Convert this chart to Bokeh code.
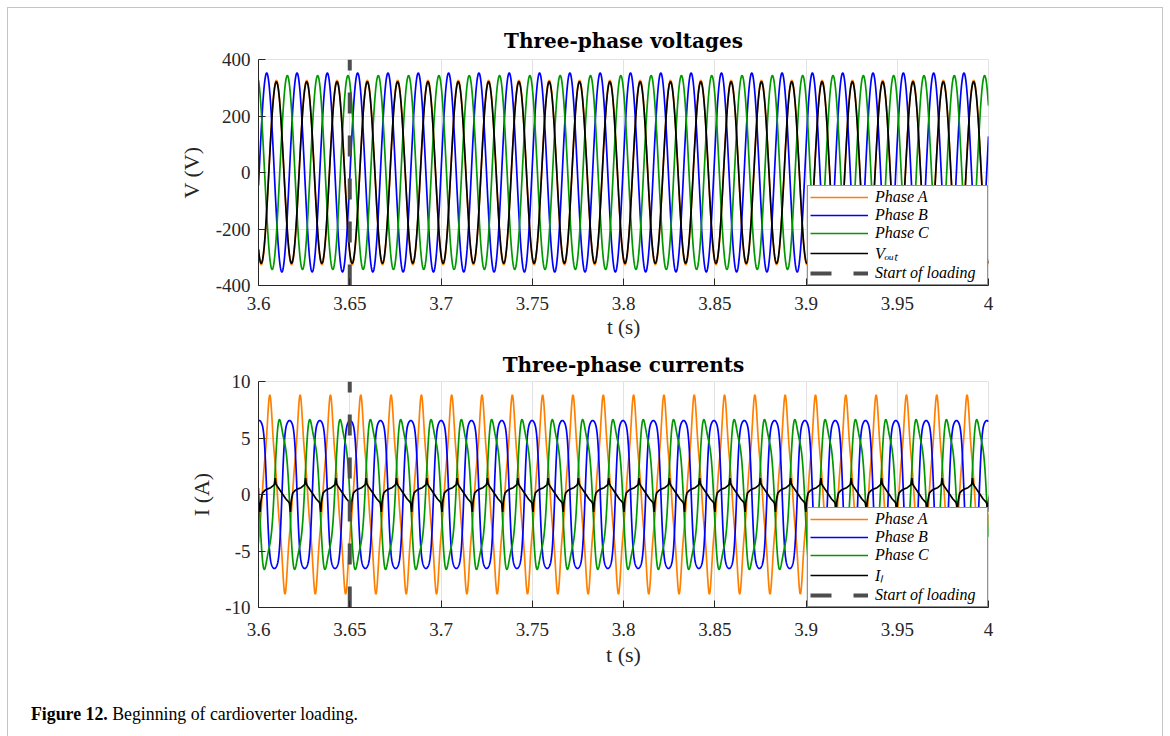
import numpy as np
from bokeh.plotting import figure
from bokeh.layouts import column
from bokeh.models import (Range1d, FixedTicker, CustomJSTickFormatter, Legend,
                          LegendItem, Div)
from bokeh.embed import file_html
from bokeh.resources import INLINE

# ---------------- values ----------------
t_window = [3.6, 4.0]
mains_freq_hz = 60.2            # 23 periods between 3.6097 s and 3.9917 s
loading_start_s = 3.65

x_ticks = [3.6, 3.65, 3.7, 3.75, 3.8, 3.85, 3.9, 3.95, 4.0]
x_tick_labels = ["3.6", "3.65", "3.7", "3.75", "3.8", "3.85", "3.9", "3.95", "4"]
v_ticks = [-400, -200, 0, 200, 400]
i_ticks = [-10, -5, 0, 5, 10]

titles = ["Three-phase voltages", "Three-phase currents"]
y_labels = ["V (V)", "I (A)"]
x_label = "t (s)"
caption_bold = "Figure 12."
caption_text = "Beginning of cardioverter loading."

phase_names = ["Phase A", "Phase B", "Phase C"]
phase_colors = ["#FF8000", "#0000FF", "#009900"]

# voltages: crest value (V) and time of first crest (s)
v_phase_peak = [326, 352, 343]
v_phase_crest_t = [3.6098, 3.6045, 3.6158]
v_out_peak = 321
v_out_crest_t = 3.6098

# phase currents: time of fundamental crest, harmonics (order, amplitude A, phase deg)
i_phase_crest_t = [3.6062, 3.6004, 3.6124]
i_phase_harmonics = [
    [(1, 7.5, 0), (3, 0.9, 180), (5, 0.4, 0)],
    [(1, 7.4, 0), (3, 1.0, 0), (5, 0.15, 0)],
    [(1, 6.6, 0), (3, 0.85, -60)],
]

# load current I_L: one period read point by point (fraction of period, A),
# starting at a downward spike
il_cycle_frac = [0.00, 0.02, 0.05, 0.08, 0.15, 0.25, 0.35, 0.44, 0.47, 0.50,
                 0.52, 0.56, 0.65, 0.75, 0.85, 0.94, 0.97]
il_cycle_val = [-1.55, -0.7, -0.2, 0.15, 0.35, 0.5, 0.6, 0.8, 0.9, 1.45,
                0.95, 0.75, 0.4, 0.0, -0.4, -0.65, -0.8]
il_first_trough_t = 3.6009

# ---------------- series ----------------
period = 1.0 / mains_freq_hz
w = 2 * np.pi * mains_freq_hz
t = np.linspace(t_window[0], t_window[1], 4001)

v_phase = [a * np.cos(w * (t - tc)) for a, tc in zip(v_phase_peak, v_phase_crest_t)]
v_out = v_out_peak * np.cos(w * (t - v_out_crest_t))

i_phase = []
for tc, harm in zip(i_phase_crest_t, i_phase_harmonics):
    th = w * (t - tc) + np.pi / 2
    y = np.zeros_like(t)
    for k, a, ph in harm:
        y += a * np.sin(k * th + np.deg2rad(ph))
    i_phase.append(y)

n_first = int(np.floor((t_window[0] - il_first_trough_t) / period)) - 1
n_last = int(np.ceil((t_window[1] - il_first_trough_t) / period)) + 1
il_t, il_y = [], []
for n in range(n_first, n_last + 1):
    for fr, val in zip(il_cycle_frac, il_cycle_val):
        il_t.append(il_first_trough_t + (n + fr) * period)
        il_y.append(val)

# ---------------- styling helpers ----------------
SERIF = "Liberation Serif"
GRID = "#e2e2e2"
AX = "#262626"

xfmt_code = """
let best = 0;
for (let i = 0; i < xt.length; i++) {
  if (Math.abs(xt[i] - tick) < Math.abs(xt[best] - tick)) best = i;
}
return xl[best];
"""


def make_fig(title, yticks, ylabel, height, top, bottom, tstandoff, xstand, ylab_stand,
             xlab_size, xlab_stand):
    p = figure(width=1154, height=height, output_backend="svg", toolbar_location=None,
               x_range=Range1d(t_window[0], t_window[1]),
               y_range=Range1d(yticks[0], yticks[-1]),
               min_border_left=250, min_border_right=174,
               min_border_top=top, min_border_bottom=bottom)
    p.title.text = title
    p.title.align = "center"
    p.title.text_font = "DejaVu Serif"
    p.title.text_font_style = "bold"
    p.title.text_font_size = "20px"
    p.title.text_color = "black"
    p.title.standoff = tstandoff
    p.xaxis.ticker = FixedTicker(ticks=x_ticks)
    p.xaxis.formatter = CustomJSTickFormatter(
        args=dict(xt=x_ticks, xl=x_tick_labels), code=xfmt_code)
    p.yaxis.ticker = FixedTicker(ticks=yticks)
    p.yaxis.formatter = CustomJSTickFormatter(code="return String(tick);")
    for ax in p.axis:
        ax.major_label_text_font = SERIF
        ax.major_label_text_font_size = "19px"
        ax.major_label_text_color = AX
        ax.axis_line_color = AX
        ax.major_tick_line_color = AX
        ax.major_tick_in = 7
        ax.major_tick_out = 0
        ax.minor_tick_in = 0
        ax.minor_tick_out = 0
        ax.axis_label_text_font = SERIF
        ax.axis_label_text_font_size = "22px"
        ax.axis_label_text_font_style = "normal"
        ax.axis_label_text_color = AX
    p.xaxis.axis_label_text_font_size = xlab_size
    p.xaxis.major_label_standoff = xstand
    p.yaxis.major_label_standoff = 8
    p.xaxis.axis_label = x_label
    p.yaxis.axis_label = ylabel
    p.xaxis.axis_label_standoff = xlab_stand
    p.yaxis.axis_label_standoff = ylab_stand
    p.grid.grid_line_color = GRID
    p.outline_line_color = GRID
    return p


def add_legend(p, renderers, labels):
    items = [LegendItem(label=lab, renderers=[r]) for lab, r in zip(labels, renderers)]
    lg = Legend(items=items, location="bottom_right", margin=0, padding=2, spacing=0,
                glyph_width=58, glyph_height=18, label_height=18, label_standoff=7,
                label_width=110,
                label_text_font=SERIF, label_text_font_style="italic",
                label_text_font_size="16px", label_text_color="black",
                border_line_color=AX, border_line_width=1,
                background_fill_color="white", background_fill_alpha=1)
    p.add_layout(lg)


# ---------------- voltages ----------------
p1 = make_fig(titles[0], v_ticks, y_labels[0], 337, 51, 60, 14, 11, 9, "21px", 2)
r1 = []
for y, c in zip(v_phase, phase_colors):
    r1.append(p1.line(t, y, line_color=c, line_width=1.7))
r1.append(p1.line(t, v_out, line_color="black", line_width=1.7))
r1.append(p1.line([loading_start_s, loading_start_s], [v_ticks[0], v_ticks[-1]],
                  line_color="#4D4D4D", line_width=4, line_dash="21 22"))
add_legend(p1, r1, phase_names + ["V\u2092\u1d64\u209c", "Start of loading"])

# ---------------- currents ----------------
p2 = make_fig(titles[1], i_ticks, y_labels[1], 332, 35, 70, 10, 15, 8, "22px", 3)
r2 = []
for y, c in zip(i_phase, phase_colors):
    r2.append(p2.line(t, y, line_color=c, line_width=1.7))
r2.append(p2.line(il_t, il_y, line_color="black", line_width=1.7))
r2.append(p2.line([loading_start_s, loading_start_s], [i_ticks[0], i_ticks[-1]],
                  line_color="#4D4D4D", line_width=4, line_dash="21 22"))
add_legend(p2, r2, phase_names + ["I\u2097", "Start of loading"])

caption = Div(text="<b>%s</b> %s" % (caption_bold, caption_text),
              width=700, height=45, margin=(25, 0, 0, 23),
              styles={"font-family": SERIF, "font-size": "17.8px", "color": "black"})

layout = column(p1, p2, caption, styles={"border": "1px solid #c4c4c4",
                                         "margin-left": "7px", "margin-top": "7px"})

open("out.html", "w").write(file_html(layout, INLINE, title="Figure 12"))
